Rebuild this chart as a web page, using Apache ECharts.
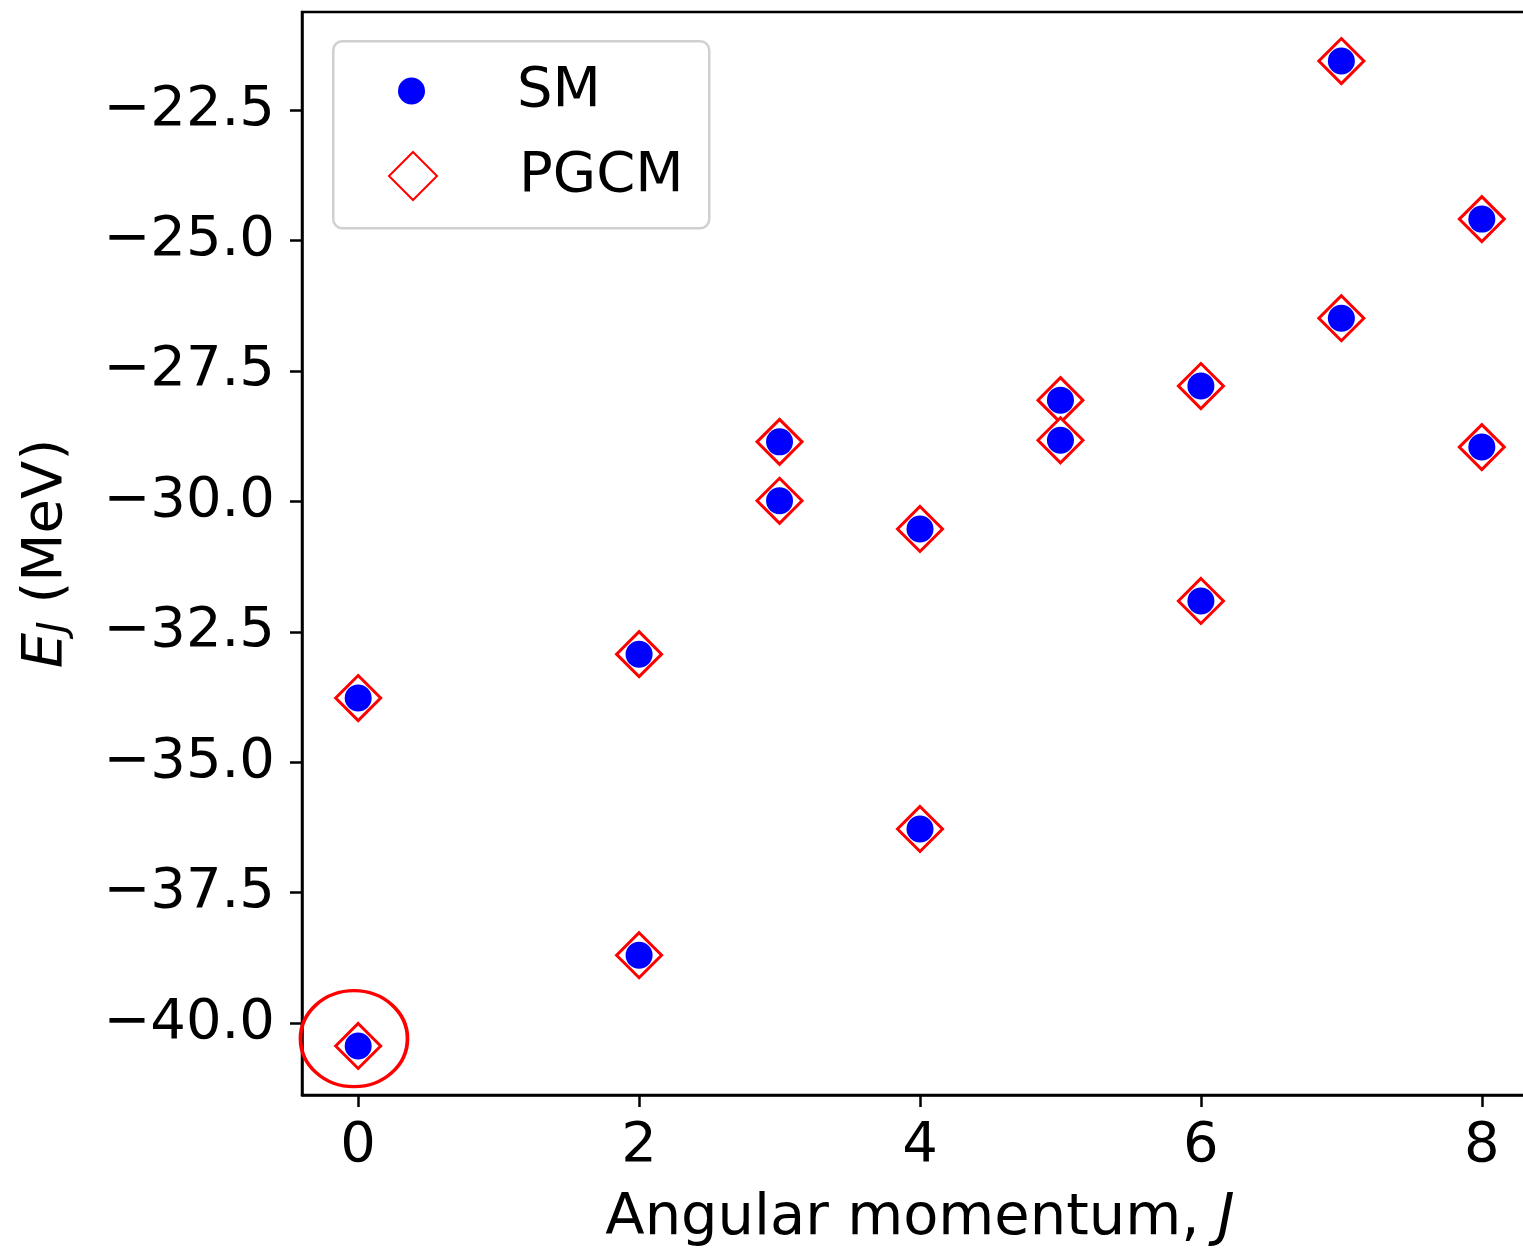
<!DOCTYPE html>
<html>
<head>
<meta charset="utf-8">
<script src="https://cdn.jsdelivr.net/npm/echarts@6/dist/echarts.min.js"></script>
<style>
html,body{margin:0;padding:0;background:#fff;overflow:hidden;}
#c{width:1523px;height:1248px;}
</style>
</head>
<body>
<div id="c"></div>
<script>
// Angular momentum J for each state
const J = [0, 0, 2, 2, 3, 3, 4, 4, 5, 5, 6, 6, 7, 7, 8, 8];
// Shell model energies (MeV)
const smE = [-33.77, -40.44, -32.93, -38.70, -28.86, -29.99, -30.53, -36.28,
             -28.06, -28.83, -27.79, -31.91, -21.56, -26.49, -24.59, -28.96];
// PGCM energies (MeV)
const pgcmE = [-33.77, -40.44, -32.93, -38.70, -28.86, -29.99, -30.53, -36.28,
               -28.06, -28.83, -27.79, -31.91, -21.56, -26.49, -24.59, -28.96];
// highlighted ground state (annotation circle)
const circleJ = [-0.03];
const circleE = [-40.3];
// tick values
const xTicks = [0, 2, 4, 6, 8];
const yTicks = [-40, -37.5, -35, -32.5, -30, -27.5, -25, -22.5];

const FONT = 'DejaVu Sans';
const fs = 56;
const fsTitle = 57.5;
const pairs = (xs, ys) => xs.map((x, i) => [x, ys[i]]);
const minus = s => s.replace('-', '\u2212');

const chart = echarts.init(document.getElementById('c'), null, {renderer: 'canvas'});
chart.setOption({
  animation: false,
  backgroundColor: '#ffffff',
  grid: {
    left: 302, top: 12, width: 1236, height: 1083,
    containLabel: false, outerBoundsMode: 'none',
    show: true, borderColor: '#000', borderWidth: 2.5, backgroundColor: 'transparent'
  },
  xAxis: {
    type: 'value', min: -0.4, max: 8.4,
    name: '{n|Angular momentum, }{i|J}',
    nameLocation: 'middle', nameGap: 95,
    nameTextStyle: {
      rich: {
        n: {fontFamily: FONT, fontSize: fsTitle, color: '#000'},
        i: {fontFamily: FONT, fontSize: fsTitle, color: '#000', fontStyle: 'italic'}
      }
    },
    splitLine: {show: false},
    axisLine: {show: true, onZero: false, lineStyle: {color: '#000', width: 2.5}},
    axisTick: {show: true, length: 12, lineStyle: {color: '#000', width: 2.5}, customValues: xTicks},
    axisLabel: {
      fontFamily: FONT, fontSize: fs, color: '#000', margin: 23,
      customValues: xTicks,
      formatter: v => minus(String(v))
    }
  },
  yAxis: {
    type: 'value', min: -41.38, max: -20.62,
    name: '{i|E}{s|J}{n| (MeV)}',
    nameLocation: 'middle', nameGap: 228, nameRotate: 90,
    nameTextStyle: {
      rich: {
        i: {fontFamily: FONT, fontSize: fs, color: '#000', fontStyle: 'italic'},
        s: {fontFamily: FONT, fontSize: 39, color: '#000', fontStyle: 'italic', verticalAlign: 'bottom', padding: [14, 0, 0, 0]},
        n: {fontFamily: FONT, fontSize: fs, color: '#000'}
      }
    },
    splitLine: {show: false},
    axisLine: {show: true, onZero: false, lineStyle: {color: '#000', width: 2.5}},
    axisTick: {show: true, length: 12, lineStyle: {color: '#000', width: 2.5}, customValues: yTicks},
    axisLabel: {
      fontFamily: FONT, fontSize: fs, color: '#000', margin: 27,
      customValues: yTicks,
      formatter: v => minus(v.toFixed(1))
    }
  },
  graphic: [{
    type: 'rect', left: 332, top: 40, z: 50,
    shape: {width: 376, height: 187, r: 9},
    style: {fill: 'rgba(255,255,255,0.85)', stroke: '#d0d0d0', lineWidth: 2.5}
  }],
  legend: [{
    data: ['SM'], left: 398, top: 63, padding: 0, z: 60,
    itemWidth: 27, itemHeight: 27, icon: 'circle',
    textStyle: {fontFamily: FONT, fontSize: fs, color: '#000', padding: [0, 0, 0, 87]},
    selectedMode: false
  }, {
    data: ['PGCM'], left: 388, top: 148, padding: 0, z: 60,
    itemWidth: 48, itemHeight: 48, icon: 'diamond',
    textStyle: {fontFamily: FONT, fontSize: fs, color: '#000', padding: [0, 0, 0, 77]},
    selectedMode: false
  }],
  series: [{
    name: 'PGCM', type: 'scatter', z: 2,
    data: pairs(J, pgcmE),
    symbol: 'diamond', symbolSize: 45,
    itemStyle: {color: '#ffffff', borderColor: '#ff0000', borderWidth: 3, opacity: 1},
    emphasis: {disabled: true}
  }, {
    name: 'SM', type: 'scatter', z: 3,
    data: pairs(J, smE),
    symbol: 'circle', symbolSize: 27,
    itemStyle: {color: '#0000ff', opacity: 1},
    emphasis: {disabled: true}
  }, {
    name: 'highlight', type: 'scatter', z: 4,
    data: pairs(circleJ, circleE),
    symbol: 'circle', symbolSize: [107, 96],
    itemStyle: {color: 'transparent', borderColor: '#ff0000', borderWidth: 3.5, opacity: 1},
    emphasis: {disabled: true}
  }]
});
</script>
</body>
</html>
